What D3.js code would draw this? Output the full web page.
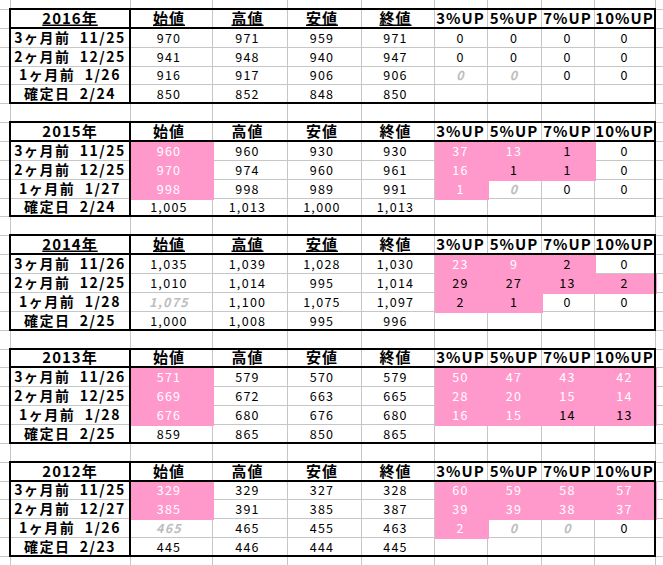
<!DOCTYPE html>
<html>
<head>
<meta charset="utf-8">
<title>Table</title>
<script src="https://d3js.org/d3.v7.min.js"></script>
<style>
  body { margin: 0; background: #fff; }
  svg text { font-family: "Noto Sans CJK JP", "Noto Sans", sans-serif; white-space: pre; }
</style>
</head>
<body>
<svg id="sheet" width="663" height="565"></svg>
<script>
// DATA
var years = ["2016年", "2015年", "2014年", "2013年", "2012年"];
var headers = ["始値", "高値", "安値", "終値", "3%UP", "5%UP", "7%UP", "10%UP"];

var rowLabels = [
  ["3ヶ月前  11/25", "2ヶ月前  12/25", "1ヶ月前  1/26", "確定日  2/24"],
  ["3ヶ月前  11/25", "2ヶ月前  12/25", "1ヶ月前  1/27", "確定日  2/24"],
  ["3ヶ月前  11/26", "2ヶ月前  12/25", "1ヶ月前  1/28", "確定日  2/25"],
  ["3ヶ月前  11/26", "2ヶ月前  12/25", "1ヶ月前  1/28", "確定日  2/25"],
  ["3ヶ月前  11/25", "2ヶ月前  12/27", "1ヶ月前  1/26", "確定日  2/23"]
];

// 始値, 高値, 安値, 終値
var prices = [
  [[970, 971, 959, 971], [941, 948, 940, 947], [916, 917, 906, 906], [850, 852, 848, 850]],
  [[960, 960, 930, 930], [970, 974, 960, 961], [998, 998, 989, 991], [1005, 1013, 1000, 1013]],
  [[1035, 1039, 1028, 1030], [1010, 1014, 995, 1014], [1075, 1100, 1075, 1097], [1000, 1008, 995, 996]],
  [[571, 579, 570, 579], [669, 672, 663, 665], [676, 680, 676, 680], [859, 865, 850, 865]],
  [[329, 329, 327, 328], [385, 391, 385, 387], [465, 465, 455, 463], [445, 446, 444, 445]]
];

// 3%UP, 5%UP, 7%UP, 10%UP (no counts on 確定日 row)
var upCounts = [
  [[0, 0, 0, 0], [0, 0, 0, 0], [0, 0, 0, 0]],
  [[37, 13, 1, 0], [16, 1, 1, 0], [1, 0, 0, 0]],
  [[23, 9, 2, 0], [29, 27, 13, 2], [2, 1, 0, 0]],
  [[50, 47, 43, 42], [28, 20, 15, 14], [16, 15, 14, 13]],
  [[60, 59, 58, 57], [39, 39, 38, 37], [2, 0, 0, 0]]
];

// cell formats: p = pink/white text, k = pink/black text, g = grey italic
var openFormat = [
  ["", "", "", ""],
  ["p", "p", "p", ""],
  ["", "", "g", ""],
  ["p", "p", "p", ""],
  ["p", "p", "g", ""]
];
var upFormat = [
  [["", "", "", ""], ["", "", "", ""], ["g", "g", "", ""]],
  [["p", "p", "k", ""], ["p", "k", "k", ""], ["p", "g", "", ""]],
  [["p", "p", "k", ""], ["k", "k", "k", "k"], ["k", "k", "", ""]],
  [["p", "p", "p", "p"], ["p", "p", "p", "p"], ["p", "p", "k", "k"]],
  [["p", "p", "p", "p"], ["p", "p", "p", "p"], ["p", "g", "g", ""]]
];
// header cells with underline (0 = year cell)
var underlined = [[0, 1, 2, 3, 4], [], [0, 1, 2, 3], [], []];

// LAYOUT
var width = 663, height = 565;
var colWidths = [120, 82, 75, 74, 73, 53, 54, 53, 61];
var edges = [10].concat(Array.from(d3.cumsum(colWidths), function (d) { return 10 + d; }));
var rowsPerBlock = 6, nRows = 30;
var rowH = (556 - 9) / 29;

var y = d3.scaleLinear()
  .domain([0, nRows])
  .range([9, 9 + nRows * rowH]);

function colX(c) { return edges[c]; }
function colW(c) { return edges[c + 1] - edges[c]; }
function rowTop(r) { return Math.round(y(r)); }

var pink = "#ff99cc", grid = "#c6c6c6", grey = "#bdbdbd";
var fmt = d3.format(",");

var svg = d3.select("#sheet");
svg.append("rect").attr("width", width).attr("height", height).attr("fill", "#fff");

// GRIDLINES
var gGrid = svg.append("g").attr("shape-rendering", "crispEdges");
gGrid.selectAll("line.v")
  .data(edges)
  .enter().append("line")
  .attr("class", "v")
  .attr("x1", function (d) { return d + 0.5; })
  .attr("x2", function (d) { return d + 0.5; })
  .attr("y1", 0).attr("y2", height)
  .attr("stroke", grid);
gGrid.selectAll("line.h")
  .data(d3.range(-1, nRows + 1))
  .enter().append("line")
  .attr("class", "h")
  .attr("x1", 0).attr("x2", width)
  .attr("y1", function (r) { return rowTop(r) + 0.5; })
  .attr("y2", function (r) { return rowTop(r) + 0.5; })
  .attr("stroke", grid);

// CELLS
var cells = [];
years.forEach(function (yr, s) {
  var r0 = s * rowsPerBlock;
  cells.push({ r: r0, c: 0, text: yr, bold: true, u: underlined[s].indexOf(0) >= 0 });
  headers.forEach(function (h, i) {
    cells.push({ r: r0, c: i + 1, text: h, bold: true, u: underlined[s].indexOf(i + 1) >= 0 });
  });
  rowLabels[s].forEach(function (lab, k) {
    var r = r0 + 1 + k;
    cells.push({ r: r, c: 0, text: lab, bold: true, label: true });
    prices[s][k].forEach(function (v, j) {
      cells.push({ r: r, c: j + 1, text: fmt(v), f: j === 0 ? openFormat[s][k] : "", num: true });
    });
    if (k < 3) {
      upCounts[s][k].forEach(function (v, j) {
        cells.push({ r: r, c: j + 5, text: fmt(v), f: upFormat[s][k][j], num: true, up: true });
      });
    }
  });
});

svg.append("g").attr("shape-rendering", "crispEdges")
  .selectAll("rect")
  .data(cells.filter(function (d) { return d.f === "p" || d.f === "k"; }))
  .enter().append("rect")
  .attr("x", function (d) { return colX(d.c) + 0.5; })
  .attr("y", function (d) { return rowTop(d.r) + 0.5; })
  .attr("width", function (d) { return colW(d.c) + 1; })
  .attr("height", function (d) { return rowTop(d.r + 1) - rowTop(d.r) + 1; })
  .attr("fill", pink);

svg.append("g")
  .selectAll("text")
  .data(cells)
  .enter().append("text")
  .attr("xml:space", "preserve")
  .attr("x", function (d) {
    var cx = colX(d.c) + colW(d.c) / 2;
    if (d.c >= 1 && d.c <= 4) cx -= 2;
    return cx;
  })
  .attr("y", function (d) { return (rowTop(d.r) + rowTop(d.r + 1)) / 2 + 5; })
  .attr("text-anchor", "middle")
  .attr("font-size", function (d) { return d.num ? 12.5 : d.label ? 14 : 15; })
  .attr("font-weight", function (d) { return d.bold || d.f === "g" ? "bold" : "normal"; })
  .attr("font-style", function (d) { return d.f === "g" ? "italic" : "normal"; })
  .attr("letter-spacing", function (d) { return d.num ? 1.3 : d.label ? 1.5 : 1; })
  .attr("fill", function (d) {
    if (d.f === "p") return "#fff";
    if (d.f === "g") return grey;
    return "#000";
  })
  .attr("text-decoration", function (d) { return d.u ? "underline" : null; })
  .text(function (d) { return d.text; });

// BORDERS
var gB = svg.append("g").attr("shape-rendering", "crispEdges");
years.forEach(function (yr, s) {
  var r0 = s * rowsPerBlock;
  var t = rowTop(r0), b = rowTop(r0 + 5), l = edges[0], rgt = edges[edges.length - 1];
  gB.append("rect")
    .attr("x", l).attr("y", t)
    .attr("width", rgt - l).attr("height", b - t)
    .attr("fill", "none").attr("stroke", "#000").attr("stroke-width", 2);
  gB.append("line")
    .attr("x1", l).attr("x2", rgt)
    .attr("y1", rowTop(r0 + 1)).attr("y2", rowTop(r0 + 1))
    .attr("stroke", "#000").attr("stroke-width", 2);
  gB.append("line")
    .attr("x1", edges[1]).attr("x2", edges[1])
    .attr("y1", t).attr("y2", b)
    .attr("stroke", "#000").attr("stroke-width", 2);
});
</script>
</body>
</html>
